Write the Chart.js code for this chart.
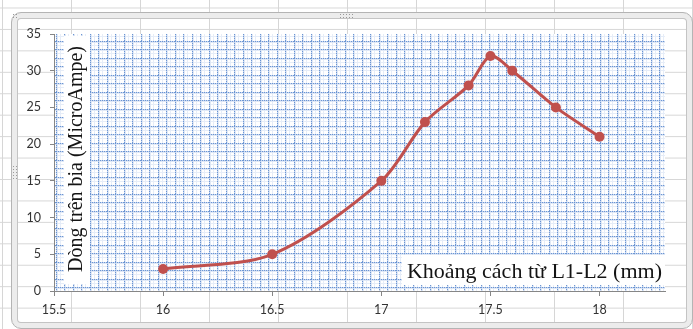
<!DOCTYPE html>
<html>
<head>
<meta charset="utf-8">
<script src="https://cdn.jsdelivr.net/npm/chart.js@4.4.1/dist/chart.umd.min.js"></script>
<style>
    html, body {
        margin: 0;
        padding: 0;
    }
    body {
        width: 693px;
        height: 329px;
        overflow: hidden;
        position: relative;
        background-color: #fff;
        background-image:
            linear-gradient(to right, #d6d6d6 1px, transparent 1px),
            linear-gradient(to bottom, #d6d6d6 1px, transparent 1px);
        background-size: 69px 21.45px;
        background-position: 2px 7.5px;
    }
    #chart {
        position: absolute;
        left: 0;
        top: 0;
    }
    .frame {
        position: absolute;
        left: 11px;
        top: 12px;
        width: 682px;
        height: 317px;
        box-sizing: border-box;
        border: 1px solid #b4b4b4;
        border-radius: 10px;
        box-shadow: inset 0 0 0 5px #ececec, inset 0 0 0 6px #c4c4c4;
        pointer-events: none;
    }
    .handle {
        position: absolute;
        background-image: radial-gradient(circle, #9a9a9a 0.8px, transparent 1px);
        background-size: 3px 3px;
    }
</style>
</head>
<body>
<canvas id="chart" width="693" height="329"></canvas>
<div class="frame"></div>
<div class="handle" style="left:339px;top:13px;width:15px;height:6px"></div>
<div class="handle" style="left:12px;top:165px;width:6px;height:15px"></div>
<div class="handle" style="left:12px;top:13px;width:6px;height:6px"></div>

<script>
// Measured current vs. distance between L1 and L2
const distances = [16, 16.5, 17, 17.2, 17.4, 17.5, 17.6, 17.8, 18];
const currents = [3, 5, 15, 23, 28, 32, 30, 25, 21];

const xTickValues = [15.5, 16, 16.5, 17, 17.5, 18];
const yTickValues = [0, 5, 10, 15, 20, 25, 30, 35];

const yTitle = 'Dòng trên bia (MicroAmpe)';
const xTitle = 'Khoảng cách từ L1-L2 (mm)';

const lineColor = '#c0504d';
const axisColor = '#868686';

// Blue dotted grid pattern used as the plot area fill
function makeGridPattern(ctx) {
    const tile = document.createElement('canvas');
    tile.width = 17;
    tile.height = 17;
    const t = tile.getContext('2d');
    t.fillStyle = '#ffffff';
    t.fillRect(0, 0, 17, 17);

    // faint in-between lines
    t.fillStyle = '#e6edf8';
    [4, 12].forEach(p => {
        t.fillRect(p, 0, 1, 17);
        t.fillRect(0, p, 17, 1);
    });

    // soft halo next to each dotted line
    t.fillStyle = '#dfe8f6';
    [1, 9].forEach(p => {
        t.fillRect(p, 0, 1, 17);
        t.fillRect(0, p, 17, 1);
    });

    [0, 8].forEach(p => {
        for (let i = 0; i < 17; i++) {
            t.fillStyle = i % 2 ? '#c6d6f0' : '#6b95d2';
            t.fillRect(p, i, 1, 1);
            t.fillRect(i, p, 1, 1);
        }
    });
    return ctx.createPattern(tile, 'repeat');
}

const plotBackground = {
    id: 'plotBackground',
    beforeDraw(chart) {
        const { ctx, chartArea: a } = chart;
        ctx.save();
        ctx.beginPath();
        ctx.rect(a.left, a.top, a.right - a.left, a.bottom - a.top);
        ctx.clip();

        ctx.translate(56, 41);
        ctx.fillStyle = makeGridPattern(ctx);
        ctx.fillRect(a.left - 56, a.top - 41, a.right - a.left, a.bottom - a.top);
        ctx.restore();

        // axis titles sit inside the plot area on white boxes
        ctx.save();
        ctx.fillStyle = '#ffffff';
        ctx.fillRect(a.left + 10, a.top + 2, 26, 248);
        ctx.fillRect(a.left + 348, a.bottom - 36, a.right - a.left - 348, 30);

        ctx.fillStyle = '#141414';
        ctx.textBaseline = 'middle';

        ctx.font = '22px "Liberation Serif", "Times New Roman", serif';
        ctx.textAlign = 'right';
        ctx.fillText(xTitle, a.right - 3, a.bottom - 19);

        ctx.font = '20px "Liberation Serif", "Times New Roman", serif';
        ctx.translate(a.left + 23, a.top + 125);
        ctx.rotate(-Math.PI / 2);
        ctx.textAlign = 'center';
        ctx.fillText(yTitle, 0, 0);
        ctx.restore();
    }
};

const ctx = document.getElementById('chart').getContext('2d');
const chart = new Chart(ctx, {
    type: 'scatter',
    data: {
        datasets: [{
            data: distances.map((d, i) => ({ x: d, y: currents[i] })),
            showLine: true,
            borderColor: lineColor,
            borderWidth: 3,
            tension: 0.3,
            backgroundColor: lineColor,
            pointRadius: 5,
            pointBorderWidth: 0,
            pointBackgroundColor: lineColor
        }]
    },
    options: {
        responsive: false,
        animation: false,
        layout: {
            padding: { top: 34, right: 28, left: 0, bottom: 0 }
        },
        plugins: {
            legend: { display: false },
            tooltip: { enabled: false }
        },
        scales: {
            x: {
                type: 'linear',
                min: 15.5,
                max: 18.3,
                afterBuildTicks: scale => {
                    scale.ticks = xTickValues.map(v => ({ value: v }));
                },
                afterFit: scale => { scale.height = 38; },
                border: { color: axisColor, width: 1 },
                grid: {
                    drawOnChartArea: false,
                    drawTicks: true,
                    tickLength: 5,
                    color: axisColor
                },
                ticks: {
                    color: '#333',
                    padding: 6,
                    maxRotation: 0,
                    font: { family: 'Lato', size: 12.5 },
                    callback: v => String(v)
                }
            },
            y: {
                min: 0,
                max: 35,
                afterBuildTicks: scale => {
                    scale.ticks = yTickValues.map(v => ({ value: v }));
                },
                afterFit: scale => { scale.width = 54; },
                border: { color: axisColor, width: 1 },
                grid: {
                    drawOnChartArea: false,
                    drawTicks: true,
                    tickLength: 4,
                    color: axisColor
                },
                ticks: {
                    color: '#333',
                    padding: 9,
                    font: { family: 'Lato', size: 12.5 },
                    callback: v => String(v)
                }
            }
        }
    },
    plugins: [plotBackground]
});
</script>
</body>
</html>
